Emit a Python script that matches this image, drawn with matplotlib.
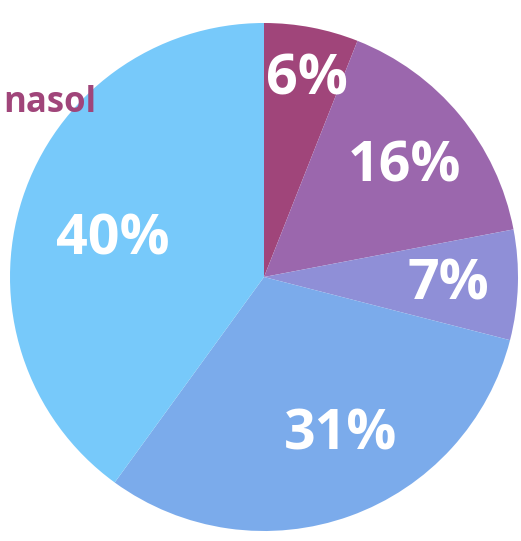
import matplotlib
matplotlib.use('Agg')
import matplotlib.pyplot as plt
import numpy as np

values = [6, 16, 7, 31, 40]
colors = ['#A0457A', '#9B67AD', '#8F8FD7', '#7BABEB', '#77C9FA']
label_radius = [0.82, 0.72, 0.725, 0.67, 0.62]
label_shift = [-1, 0, 1.3, 7, 2]   # degrees, counter-clockwise

plt.rcParams['font.family'] = ['Open Sans', 'DejaVu Sans']

fig = plt.figure(figsize=(5.21, 5.41), dpi=100)
fig.patch.set_facecolor('white')
ax = fig.add_axes([10 / 521, 10 / 541, 508 / 521, 508 / 541])
wedges, _ = ax.pie(values, colors=colors, startangle=90, counterclock=False,
                   radius=1, wedgeprops=dict(linewidth=0))
for w, v, r, s in zip(wedges, values, label_radius, label_shift):
    ang = np.deg2rad((w.theta1 + w.theta2) / 2 + s)
    ax.text(r * np.cos(ang), r * np.sin(ang), f'{v}%', ha='center',
            va='center_baseline', color='white', fontsize=40, fontweight='bold')
ax.set_xlim(-1, 1)
ax.set_ylim(-1, 1)
ax.set_aspect('equal')
ax.axis('off')

fig.text(96 / 521, 1 - 98 / 541, 'nasol', ha='right', va='center_baseline',
         color='#A0457A', fontsize=25, fontweight='bold')

fig.savefig('out.png', dpi=100)
